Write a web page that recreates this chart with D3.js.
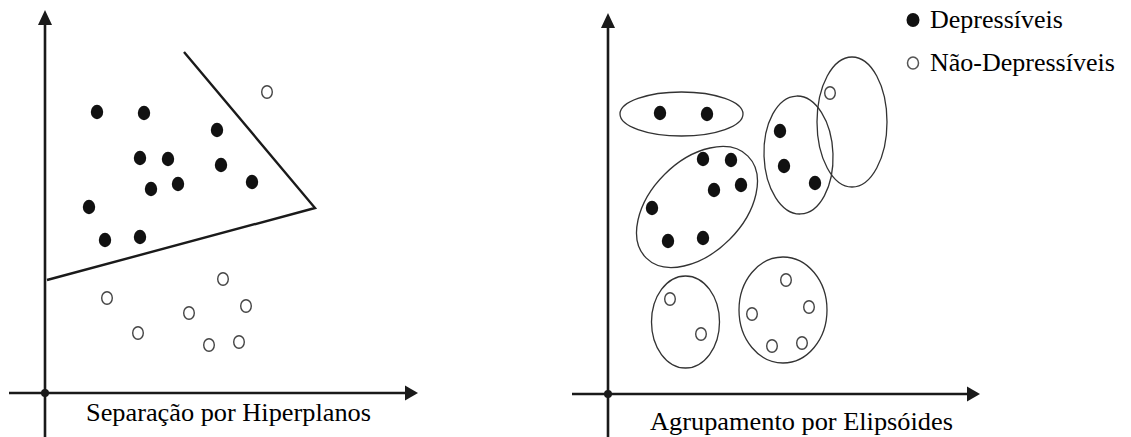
<!DOCTYPE html>
<html>
<head>
<meta charset="utf-8">
<script src="https://cdn.jsdelivr.net/npm/d3@7"></script>
<style>
  html, body { margin: 0; padding: 0; background: #fff; }
</style>
</head>
<body>
<svg id="chart"></svg>
<script>
// points, in units measured from each panel's origin
var depressed = [
  [52, 281], [99, 280], [172, 263], [95, 235], [123, 234], [176, 228],
  [106, 204], [133, 209], [207, 211], [44, 186], [60, 153], [95, 156]
];
var notDepressed = [
  [222, 301], [178, 114], [62, 95], [201, 87], [144, 80], [93, 60], [164, 48], [194, 51]
];

// separating hyperplane (left panel)
var hyperplane = [[139, 341], [270, 185], [2, 113]];

// ellipsoid clusters (right panel)
var clusterCenters = [[73.5, 280], [89, 187], [190.5, 239], [244, 272], [77.5, 72], [175, 84]];
var clusterRadii = [[61.5, 22], [72, 46], [34.5, 59], [35, 65], [34, 46], [44, 53]];
var clusterAngles = [0, -45, -2, 0, 0, 0];

var panelTitles = ["Separação por Hiperplanos", "Agrupamento por Elipsóides"];
var legendLabels = ["Depressíveis", "Não-Depressíveis"];

var W = 1131, H = 437;
var serif = "Liberation Serif";
var svg = d3.select("#chart").attr("width", W).attr("height", H);

var panels = [
  { ox: 45, oy: 393, xMin: -36, xMax: 373, yMin: -44, yMax: 383, labelX: 86, labelY: 421, labelW: 285 },
  { ox: 608, oy: 394, xMin: -36, xMax: 372, yMin: -44, yMax: 381, labelX: 650, labelY: 430, labelW: 303 }
];

var ink = "#1a1a1a";

panels.forEach(function (p, i) {
  var x = d3.scaleLinear().domain([0, 100]).range([p.ox, p.ox + 100]);
  var y = d3.scaleLinear().domain([0, 100]).range([p.oy, p.oy - 100]);
  var g = svg.append("g");

  // axes
  g.append("line")
    .attr("x1", x(p.xMin)).attr("y1", y(0))
    .attr("x2", x(p.xMax) - 10).attr("y2", y(0))
    .attr("stroke", ink).attr("stroke-width", 2.6);
  g.append("line")
    .attr("x1", x(0)).attr("y1", y(p.yMin))
    .attr("x2", x(0)).attr("y2", y(p.yMax) + 10)
    .attr("stroke", ink).attr("stroke-width", 2.6);

  // arrow heads
  var tx = x(p.xMax), ty = y(0);
  g.append("path")
    .attr("d", "M" + tx + "," + ty + " L" + (tx - 13) + "," + (ty - 7.5) + " L" + (tx - 13) + "," + (ty + 7.5) + " Z")
    .attr("fill", ink);
  var ux = x(0), uy = y(p.yMax);
  g.append("path")
    .attr("d", "M" + ux + "," + uy + " L" + (ux - 7) + "," + (uy + 15) + " L" + (ux + 7) + "," + (uy + 15) + " Z")
    .attr("fill", ink);

  g.append("circle")
    .attr("cx", x(0)).attr("cy", y(0)).attr("r", 4)
    .attr("fill", ink);

  if (i === 0) {
    var line = d3.line().x(function (d) { return x(d[0]); }).y(function (d) { return y(d[1]); });
    g.append("path")
      .datum(hyperplane)
      .attr("d", line)
      .attr("fill", "none")
      .attr("stroke", ink)
      .attr("stroke-width", 2.4)
      .attr("stroke-linejoin", "miter");
  } else {
    g.selectAll(".cluster")
      .data(clusterCenters)
      .enter()
      .append("ellipse")
      .attr("class", "cluster")
      .attr("cx", function (d) { return x(d[0]); })
      .attr("cy", function (d) { return y(d[1]); })
      .attr("rx", function (d, k) { return x(clusterRadii[k][0]) - x(0); })
      .attr("ry", function (d, k) { return y(0) - y(clusterRadii[k][1]); })
      .attr("transform", function (d, k) {
        return "rotate(" + clusterAngles[k] + "," + x(d[0]) + "," + y(d[1]) + ")";
      })
      .attr("fill", "none")
      .attr("stroke", "#333")
      .attr("stroke-width", 1.3);
  }

  g.selectAll(".dep")
    .data(depressed)
    .enter()
    .append("ellipse")
    .attr("class", "dep")
    .attr("cx", function (d) { return x(d[0]); })
    .attr("cy", function (d) { return y(d[1]); })
    .attr("rx", 6.2).attr("ry", 7.2)
    .attr("fill", "#111");

  g.selectAll(".nodep")
    .data(notDepressed)
    .enter()
    .append("ellipse")
    .attr("class", "nodep")
    .attr("cx", function (d) { return x(d[0]); })
    .attr("cy", function (d) { return y(d[1]); })
    .attr("rx", 5.3).attr("ry", 6.3)
    .attr("fill", "#fff")
    .attr("stroke", "#444")
    .attr("stroke-width", 1.4);

  g.append("text")
    .attr("x", p.labelX).attr("y", p.labelY)
    .attr("font-family", serif)
    .attr("font-size", 26)
    .attr("fill", "#000")
    .attr("textLength", p.labelW)
    .attr("lengthAdjust", "spacingAndGlyphs")
    .text(panelTitles[i]);
});

// legend
var legend = svg.append("g");
var legendY = [20, 63];
legend.append("ellipse")
  .attr("cx", 913).attr("cy", legendY[0]).attr("rx", 6.5).attr("ry", 7)
  .attr("fill", "#111");
legend.append("ellipse")
  .attr("cx", 913).attr("cy", legendY[1]).attr("rx", 5.5).attr("ry", 6)
  .attr("fill", "#fff").attr("stroke", "#555").attr("stroke-width", 1.5);
legend.selectAll("text")
  .data(legendLabels)
  .enter()
  .append("text")
  .attr("x", 930)
  .attr("y", function (d, k) { return legendY[k] + 8; })
  .attr("font-family", serif)
  .attr("font-size", 26)
  .attr("fill", "#000")
  .text(function (d) { return d; });
</script>
</body>
</html>
